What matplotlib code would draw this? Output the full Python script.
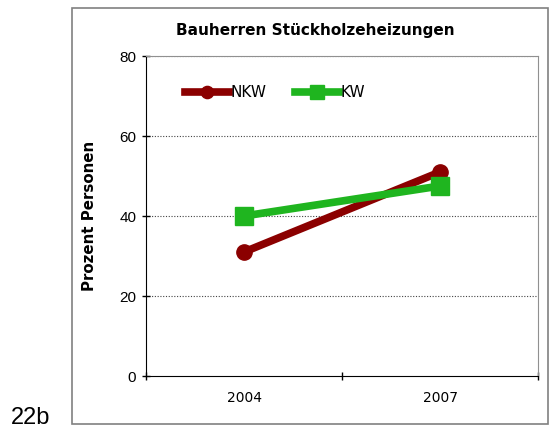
import matplotlib
matplotlib.use("Agg")
import matplotlib.pyplot as plt
from matplotlib.patches import Rectangle

categories = ["2004", "2007"]
nkw = [31, 51]
kw = [40, 47.5]
yticks = [0, 20, 40, 60, 80]

W, H = 549, 436
fig = plt.figure(figsize=(W/100, H/100), dpi=100)
fig.patch.set_facecolor("white")

# outer frame
fig.add_artist(Rectangle((72/W, 1-424/H), (548-72)/W, (424-8)/H, transform=fig.transFigure,
                         fill=False, edgecolor="#808080", linewidth=1.2))

ax = fig.add_axes([146/W, 1-376/H, (538-146)/W, (376-56)/H])
x = list(range(len(categories)))
ax.plot(x, nkw, color="#8B0000", linewidth=5.5, marker="o", markersize=11, label="NKW", zorder=3)
ax.plot(x, kw, color="#1FB51F", linewidth=5.5, marker="s", markersize=13, label="KW", zorder=4)

ax.set_xlim(-0.5, 1.5)
ax.set_ylim(0, 80)
ax.set_yticks(yticks)
ax.set_xticks([-0.5, 0.5, 1.5])
ax.set_xticklabels([])
ax.set_xticks(x, minor=True)
ax.set_xticklabels(categories, minor=True)
ax.tick_params(axis="x", which="minor", length=0, pad=11, labelsize=10)
ax.tick_params(axis="x", which="major", direction="inout", length=6, width=1)
ax.tick_params(axis="y", direction="inout", length=6, width=1, labelsize=11, pad=4)
for lab in ax.get_yticklabels():
    lab.set_fontfamily("Liberation Sans")
for y in [20, 40, 60, 80]:
    ax.axhline(y, color="#444444", linewidth=0.8, linestyle=(0, (1, 1.5)), zorder=1)
ax.spines["left"].set_color("black")
ax.spines["bottom"].set_color("black")
ax.spines["top"].set_color("#909090")
ax.spines["right"].set_color("#909090")

ax.set_ylabel("Prozent Personen", fontweight="bold", fontsize=10.8, labelpad=16)

fig.text(315/W, 1-30/H, "Bauherren Stückholzeheizungen", ha="center", va="center",
         fontsize=11, fontweight="bold")

leg = ax.legend(loc="upper left", bbox_to_anchor=((185-146)/(538-146), 1-(85-56)/(376-56)),
                ncol=2, frameon=False, fontsize=11, handlelength=2.9, handletextpad=0.05,
                columnspacing=1.9, borderaxespad=0, borderpad=0, markerscale=0.8)

fig.text(11/W, 1-418/H, "22b", ha="left", va="center", fontsize=17, fontfamily="Liberation Sans")

fig.savefig("out.png", dpi=100)
